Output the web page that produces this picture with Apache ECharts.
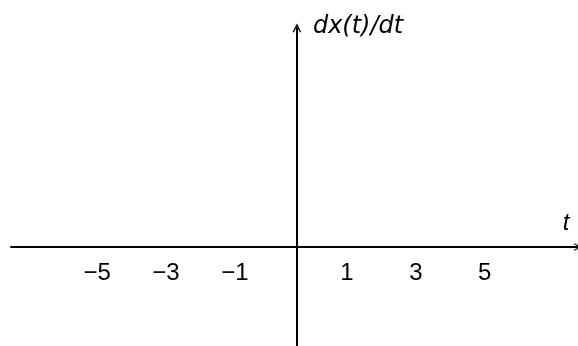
<!DOCTYPE html>
<html>
<head>
<meta charset="utf-8">
<script src="https://cdn.jsdelivr.net/npm/echarts@6/dist/echarts.min.js"></script>
<style>
  html, body { margin: 0; padding: 0; background: #fff; }
  #chart { width: 578px; height: 346px; }
</style>
</head>
<body>
<div id="chart"></div>
<script>
// tick labels on the t axis
const tTicks = [-5, -3, -1, 1, 3, 5];
const xName = 't';
const yName = 'dx(t)/dt';
// no curve drawn, the axes are empty
const seriesData = [];

// labels sit a little away from the origin
const labelGap = 0.63;
const arrowHead = 'path://M0,10 L5,0 L10,10 L8.6,10.6 L5,3.4 L1.4,10.6 Z';

const chart = echarts.init(document.getElementById('chart'), null, { renderer: 'canvas' });

chart.setOption({
    animation: false,
    grid: { left: 11, right: 0, top: 28, bottom: 0, containLabel: false, outerBoundsMode: 'none' },
    xAxis: {
        type: 'value',
        min: -8.31,
        max: 8.17,
        position: 'bottom',
        offset: -99, // t axis sits above the bottom edge, at y = 0
        name: xName,
        nameLocation: 'end',
        nameGap: -12,
        nameTextStyle: {
            fontFamily: 'Liberation Sans, Arial',
            fontStyle: 'italic',
            fontSize: 24,
            color: '#000',
            align: 'center',
            verticalAlign: 'bottom',
            padding: [0, 0, 12, 0]
        },
        axisLine: {
            onZero: false,
            symbol: ['none', arrowHead],
            symbolSize: [10, 8],
            lineStyle: { color: '#000', width: 2 }
        },
        axisTick: { show: false },
        splitLine: { show: false },
        axisLabel: {
            customValues: tTicks.map(t => t + Math.sign(t) * labelGap),
            formatter: v => {
                const t = Math.round(v - Math.sign(v) * labelGap);
                return t < 0 ? '\u2212' + Math.abs(t) : String(t);
            },
            margin: 14,
            fontFamily: 'Liberation Sans, Arial',
            fontSize: 24,
            color: '#000',
            padding: [0, 12, 0, 0]
        }
    },
    yAxis: {
        type: 'value',
        min: -1,
        max: 2.2,
        name: yName,
        nameLocation: 'end',
        nameGap: 1,
        nameTextStyle: {
            fontFamily: 'DejaVu Sans',
            fontStyle: 'italic',
            fontSize: 24,
            color: '#000',
            align: 'left',
            verticalAlign: 'middle',
            padding: [0, 0, 0, 16]
        },
        axisLine: {
            onZero: true,
            symbol: ['none', arrowHead],
            symbolSize: [11, 9],
            lineStyle: { color: '#000', width: 2 }
        },
        axisTick: { show: false },
        axisLabel: { show: false },
        splitLine: { show: false }
    },
    series: [
        { type: 'line', data: seriesData, silent: true }
    ]
});
</script>
</body>
</html>
